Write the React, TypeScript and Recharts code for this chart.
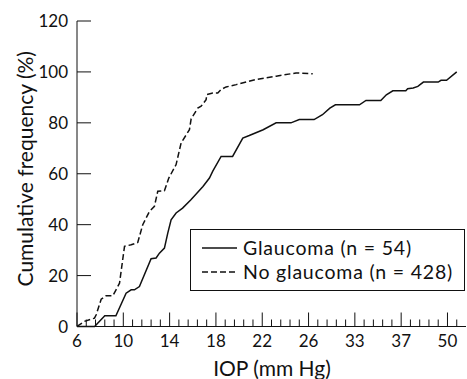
import React from 'react';
import { LineChart, Line, XAxis, YAxis, Legend } from 'recharts';

// Ordinal IOP axis: one tick per position, labels at every fifth position
const xTickPositions = Array.from({ length: 42 }, (_, i) => i);
const xTickLabels: Record<number, string> = { 0: '6', 5: '10', 10: '14', 15: '18', 20: '22', 25: '26', 30: '33', 35: '37', 40: '50' };
const yTicks = [0, 20, 40, 60, 80, 100, 120];

// Glaucoma (n = 54): position on IOP axis, cumulative frequency (%)
const glaucomaPos = [0, 1.9, 3.0, 4.2, 5.3, 5.85, 6.2, 6.74, 8.0, 8.54, 8.9, 9.44, 9.8, 10.16, 10.7, 11.4, 12.3, 13.6, 14.3, 14.66, 15.56, 16.8, 17.9, 18.6, 20.1, 21.5, 23.1, 24.0, 25.6, 26.5, 27.3, 27.9, 30.5, 31.2, 32.8, 33.4, 34.1, 35.5, 35.7, 36.3, 36.8, 37.4, 39.0, 39.3, 39.9, 41.0];
const glaucomaFreq = [0, 0, 4.2, 4.2, 13.1, 14.4, 14.4, 15.7, 26.6, 26.9, 28.8, 30.8, 36.7, 41.9, 44.6, 46.5, 49.8, 55.0, 58.3, 61.0, 66.8, 66.8, 74.0, 75.0, 77.3, 80.0, 80.0, 81.3, 81.3, 83.2, 85.8, 87.1, 87.1, 88.8, 88.8, 91.0, 92.6, 92.6, 93.4, 93.7, 94.3, 96.0, 96.0, 96.7, 96.7, 100];

// No glaucoma (n = 428)
const noGlaucomaPos = [0, 0.81, 1.89, 2.07, 2.61, 3.15, 3.87, 4.59, 5.13, 5.85, 6.56, 7.1, 7.82, 8.36, 8.72, 9.44, 9.91, 10.7, 11.24, 12.14, 12.32, 13.04, 13.4, 13.94, 14.01, 14.66, 15.2, 15.56, 16.1, 17.2, 19.3, 21.5, 23.65, 25.45];
const noGlaucomaFreq = [0, 2.0, 3.3, 4.6, 10.7, 12.1, 12.1, 17.0, 31.5, 32.1, 33.0, 40.0, 45.2, 47.2, 53.1, 53.3, 58.3, 63.6, 72.1, 77.3, 81.5, 85.8, 86.5, 89.1, 91.1, 91.7, 91.7, 93.1, 94.1, 95.0, 97.0, 98.3, 99.6, 99.3];

const glaucomaData = glaucomaPos.map((x, i) => ({ x, y: glaucomaFreq[i] }));
const noGlaucomaData = noGlaucomaPos.map((x, i) => ({ x, y: noGlaucomaFreq[i] }));

const FONT = 'Lato, sans-serif';
const INK = '#111';

const XTick = (props: any) => {
  const { x, y, payload } = props;
  const label = xTickLabels[payload.value];
  const major = label !== undefined;
  return (
    <g>
      <line x1={x} x2={x} y1={y} y2={y - (major ? 14 : 7)} stroke={INK} strokeWidth={1} />
      {major && (
        <text x={x} y={y + 20} textAnchor="middle" fontFamily={FONT} fontSize={17} fill={INK}>
          {label}
        </text>
      )}
    </g>
  );
};

const YTick = (props: any) => {
  const { x, y, payload } = props;
  return (
    <g>
      <line x1={x} x2={x + 14} y1={y} y2={y} stroke={INK} strokeWidth={1} />
      <text x={x - 9} y={y} dy="0.36em" textAnchor="end" fontFamily={FONT} fontSize={17} fill={INK}>
        {payload.value}
      </text>
    </g>
  );
};

const LegendBox = () => (
  <svg width={275} height={62} style={{ display: 'block' }}>
    <rect x={0.5} y={0.5} width={274} height={61} fill="#fff" stroke={INK} strokeWidth={1} />
    <line x1={12} x2={47} y1={19} y2={19} stroke={INK} strokeWidth={1.5} />
    <text x={53} y={19} dy="0.36em" fontFamily={FONT} fontSize={19.5} letterSpacing={0.8} fill={INK}>Glaucoma (n = 54)</text>
    <line x1={12} x2={47} y1={43} y2={43} stroke={INK} strokeWidth={1.5} strokeDasharray="6 3" />
    <text x={53} y={43} dy="0.36em" fontFamily={FONT} fontSize={19.5} letterSpacing={0.8} fill={INK}>No glaucoma (n = 428)</text>
  </svg>
);

const YLabel = (props: any) => {
  const { viewBox } = props;
  const cx = 25;
  const cy = viewBox.y + viewBox.height / 2 - 5;
  return (
    <text x={cx} y={cy} transform={`rotate(-90, ${cx}, ${cy})`} textAnchor="middle" dy="0.36em" fontFamily={FONT} fontSize={21} fill={INK}>
      Cumulative frequency (%)
    </text>
  );
};

const XLabel = (props: any) => {
  const { viewBox } = props;
  const cx = 272;
  const cy = viewBox.y + 49;
  return (
    <text x={cx} y={cy} textAnchor="middle" fontFamily={FONT} fontSize={21} fill={INK}>
      IOP (mm Hg)
    </text>
  );
};

export default function App() {
  return (
    <div style={{ position: 'absolute', left: 0, top: 0, width: 467, height: 379, background: '#fff' }}>
      <LineChart width={467} height={379} margin={{ top: 21, right: 1, left: 0, bottom: 0 }}>
        <XAxis
          type="number"
          dataKey="x"
          domain={[0, 42]}
          ticks={xTickPositions}
          interval={0}
          tick={<XTick />}
          tickLine={false}
          tickSize={0}
          tickMargin={0}
          height={52.5}
          axisLine={{ stroke: INK, strokeWidth: 1 }}
          allowDataOverflow
          label={<XLabel />}
        />
        <YAxis
          type="number"
          domain={[0, 120]}
          ticks={yTicks}
          interval={0}
          tick={<YTick />}
          tickLine={false}
          tickSize={0}
          tickMargin={0}
          width={77}
          axisLine={{ stroke: INK, strokeWidth: 1 }}
          label={<YLabel />}
        />
        <Legend
          layout="horizontal"
          verticalAlign="middle"
          align="center"
          content={<LegendBox />}
          wrapperStyle={{ position: 'absolute', left: 190, top: 229, width: 275, height: 62 }}
        />
        <Line data={glaucomaData} dataKey="y" type="linear" stroke={INK} strokeWidth={1.5} dot={false} isAnimationActive={false} name="Glaucoma (n = 54)" />
        <Line data={noGlaucomaData} dataKey="y" type="linear" stroke={INK} strokeWidth={1.5} strokeDasharray="6 3" dot={false} isAnimationActive={false} name="No glaucoma (n = 428)" />
      </LineChart>
    </div>
  );
}
